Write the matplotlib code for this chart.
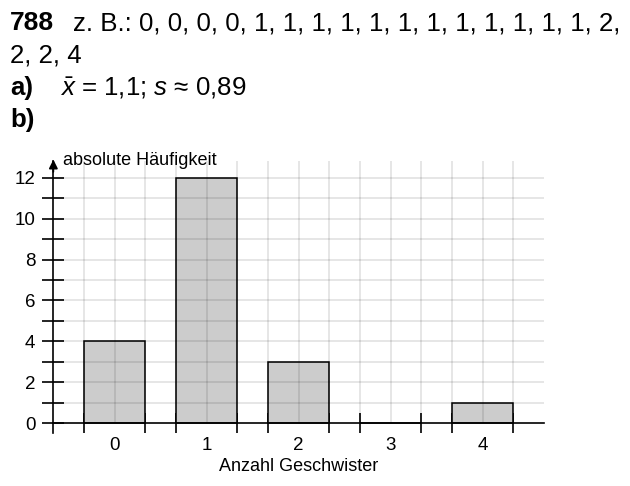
import matplotlib
matplotlib.use('Agg')
import matplotlib.pyplot as plt
import numpy as np

plt.rcParams['font.family'] = ['Liberation Sans', 'DejaVu Sans']
plt.rcParams['mathtext.fontset'] = 'custom'
plt.rcParams['mathtext.it'] = 'Liberation Sans:italic'
plt.rcParams['mathtext.rm'] = 'Liberation Sans'

# data
categories = [0, 1, 2, 3, 4]
counts     = [4, 12, 3, 0, 1]
y_labels   = [0, 2, 4, 6, 8, 10, 12]

header_list = 'z. B.: 0, 0, 0, 0, 1, 1, 1, 1, 1, 1, 1, 1, 1, 1, 1, 1, 2,'
header_rest = '2, 2, 4'
stats_text  = r'$\bar{x}$ = 1,1; $s$ ≈ 0,89'

W, H = 630, 486
fig = plt.figure(figsize=(W / 100, H / 100), dpi=100)

def fx(px):
    return px / W

def fy(py):
    return 1 - py / H

# header text
fig.text(fx(10), fy(30), '788', fontsize=19, fontweight='bold', va='baseline')
fig.text(fx(73), fy(30), header_list, fontsize=18.6, va='baseline')
fig.text(fx(10), fy(62), header_rest, fontsize=18.6, va='baseline')
fig.text(fx(10), fy(95), 'a)', fontsize=18.6, fontweight='bold', va='baseline')
fig.text(fx(60), fy(95), stats_text, fontsize=18.6, va='baseline')
fig.text(fx(10), fy(127), 'b)', fontsize=18.6, fontweight='bold', va='baseline')

# axes placed so that one category = 92 px and one unit in y = 20.42 px
x0, xs = 114.7, 92.0
y0, ys = 423.0, 20.42
xlim = (-1.2, 5.0)
ylim = (-1.5, 13.5)
left   = x0 + xs * xlim[0]
right  = x0 + xs * xlim[1]
bottom = y0 - ys * ylim[0]
top    = y0 - ys * ylim[1]
ax = fig.add_axes([fx(left), fy(bottom), (right - left) / W, (bottom - top) / H])
ax.set_xlim(*xlim)
ax.set_ylim(*ylim)
ax.patch.set_alpha(0)

x_lo, x_hi = -2 / 3, 14 / 3
y_top = 12.85

ax.bar(categories, counts, width=2 / 3, color='#cccccc', edgecolor='black',
       linewidth=1.1, zorder=2)

# squared paper grid
grid_x = np.arange(-1, 14) / 3
grid_y = np.arange(1, 13)
ax.vlines(grid_x, 0, y_top, color='black', alpha=0.13, linewidth=1.1, zorder=3)
ax.hlines(grid_y, x_lo, x_hi, color='black', alpha=0.13, linewidth=1.1, zorder=3)

for side in ['top', 'right']:
    ax.spines[side].set_visible(False)
ax.spines['left'].set_position(('data', x_lo))
ax.spines['left'].set_bounds(-0.5, y_top)
ax.spines['bottom'].set_position(('data', 0))
ax.spines['bottom'].set_bounds(x_lo, x_hi)
for side in ['left', 'bottom']:
    ax.spines[side].set_linewidth(1.2)
    ax.spines[side].set_zorder(4)

ax.annotate('', xy=(x_lo, 12.9), xytext=(x_lo, 12.3),
            arrowprops=dict(arrowstyle='-|>', color='black', lw=1.2,
                            mutation_scale=13, shrinkA=0, shrinkB=0),
            zorder=5, annotation_clip=False)

ax.set_yticks(y_labels)
ax.set_yticks(np.arange(0, 13), minor=True)
ax.tick_params(axis='y', which='both', direction='inout', length=16, width=1.2,
               labelsize=13.5, pad=5)

ax.set_xticks(categories)
edges = np.array(categories)
ax.set_xticks(np.concatenate([edges - 1 / 3, edges + 1 / 3]), minor=True)
ax.tick_params(axis='x', which='major', length=0, labelsize=13.5, pad=10)
ax.tick_params(axis='x', which='minor', direction='inout', length=15, width=1.2)

ax.text(x_lo + 0.1, 12.63, 'absolute Häufigkeit', fontsize=13, va='baseline',
        ha='left', clip_on=False)
ax.text(2, (y0 - 466) / ys, 'Anzahl Geschwister', fontsize=13, va='center',
        ha='center', clip_on=False)

fig.savefig('out.png', dpi=100)
